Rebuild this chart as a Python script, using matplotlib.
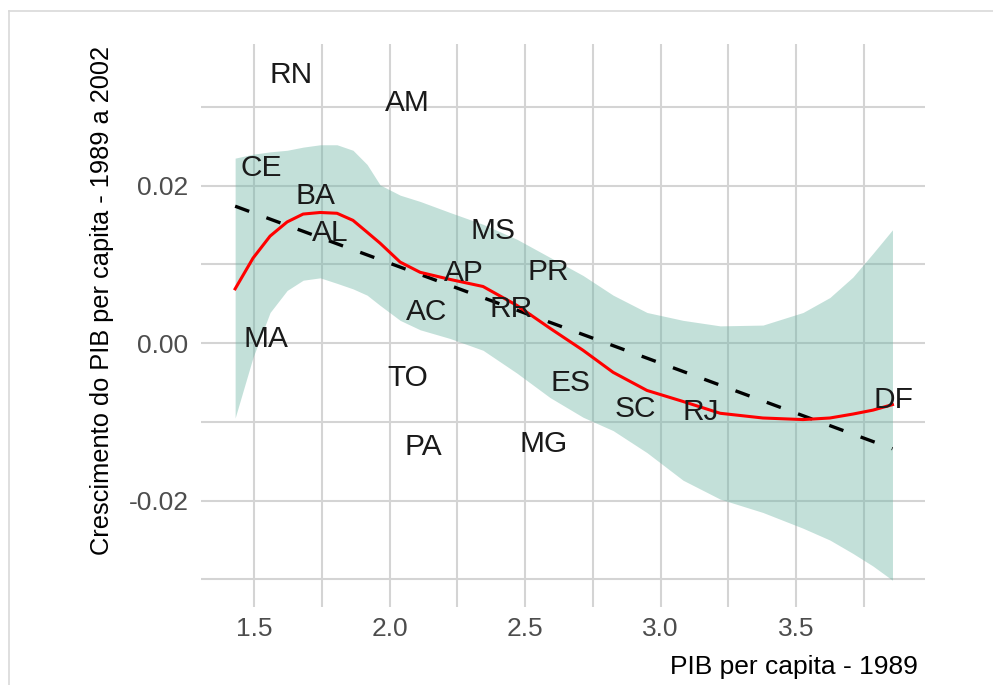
import matplotlib
matplotlib.use("Agg")
from matplotlib import pyplot as plt
from matplotlib.lines import Line2D

plt.rcParams['font.family'] = ['Liberation Sans', 'DejaVu Sans']

# estados: PIB per capita 1989 x crescimento 1989-2002
uf = ['RN', 'AM', 'CE', 'BA', 'AL', 'MS', 'AP', 'PR', 'AC', 'RR',
      'MA', 'TO', 'ES', 'SC', 'RJ', 'PA', 'MG', 'DF']
pib89 = [1.637, 2.065, 1.526, 1.725, 1.780, 2.382, 2.275, 2.585, 2.135, 2.448,
         1.544, 2.068, 2.666, 2.906, 3.149, 2.124, 2.570, 3.858]
cresc = [0.0341, 0.0305, 0.0222, 0.0187, 0.0140, 0.0142, 0.0089, 0.0091, 0.0039, 0.0044,
         0.0005, -0.0044, -0.0051, -0.0084, -0.0088, -0.0132, -0.0128, -0.0072]

# loess e intervalo de confianca
fit_x = [1.430, 1.496, 1.559, 1.622, 1.681, 1.744, 1.806, 1.865, 1.917, 1.965,
         2.039, 2.113, 2.223, 2.345, 2.470, 2.592, 2.714, 2.825, 2.950, 3.083,
         3.220, 3.378, 3.526, 3.625, 3.710, 3.784, 3.856]
fit_y = [0.0069, 0.0108, 0.0136, 0.0154, 0.0164, 0.0166, 0.0165, 0.0156, 0.0141, 0.0127,
         0.0103, 0.0090, 0.0081, 0.0072, 0.0048, 0.0019, -0.0009, -0.0037, -0.0060, -0.0074,
         -0.0089, -0.0095, -0.0097, -0.0095, -0.0090, -0.0085, -0.0078]
fit_hi = [0.0235, 0.0240, 0.0243, 0.0245, 0.0249, 0.0252, 0.0252, 0.0245, 0.0227, 0.0201,
          0.0188, 0.0180, 0.0166, 0.0151, 0.0132, 0.0109, 0.0086, 0.0061, 0.0039, 0.0029,
          0.0022, 0.0023, 0.0039, 0.0058, 0.0084, 0.0114, 0.0144]
fit_lo = [-0.0095, -0.0018, 0.0039, 0.0067, 0.0080, 0.0083, 0.0076, 0.0069, 0.0061, 0.0048,
          0.0029, 0.0017, 0.0006, -0.0009, -0.0038, -0.0069, -0.0094, -0.0111, -0.0139, -0.0174,
          -0.0198, -0.0215, -0.0235, -0.0250, -0.0267, -0.0283, -0.0301]

# regressao linear
lm_x = [1.430, 3.856]
lm_y = [0.0174, -0.0134]

fig = plt.figure(figsize=(9.93, 6.85), dpi=100)
ax = fig.add_axes([0.2024, 0.1139, 0.7291, 0.8219])

grid_col = '#d4d4d4'
ax.set_xlim(1.304, 3.976)
ax.set_ylim(-0.0335, 0.0380)
ax.set_xticks([1.5, 2.0, 2.5, 3.0, 3.5])
ax.set_xticks([1.75, 2.25, 2.75, 3.25, 3.75], minor=True)
ax.set_yticks([-0.02, 0.0, 0.02])
ax.set_yticks([-0.03, -0.01, 0.01, 0.03], minor=True)
ax.set_yticklabels(['-0.02', '0.00', '0.02'])
ax.grid(True, which='both', color=grid_col, lw=1.5)
ax.set_axisbelow(True)
for s in ax.spines.values():
    s.set_visible(False)
ax.tick_params(which='both', length=0, labelsize=19, colors='#4d4d4d')
ax.tick_params(axis='x', pad=7)
ax.tick_params(axis='y', pad=9)

ax.fill_between(fit_x, fit_lo, fit_hi, color='#69b3a2', alpha=0.4, lw=0, zorder=2)
ax.plot(lm_x, lm_y, color='black', lw=2.4, ls=(0, (4.5, 5.5)), zorder=3)
ax.plot(fit_x, fit_y, color='red', lw=2.2, zorder=4)

for lab, x, y in zip(uf, pib89, cresc):
    ax.text(x, y, lab, fontsize=21.5, ha='center', va='center', color='#1a1a1a', zorder=5)

ax.set_xlabel('PIB per capita - 1989', fontsize=19, ha='right')
ax.xaxis.set_label_coords(0.990, -0.085)
ax.set_ylabel('Crescimento do PIB per capita - 1989 a 2002', fontsize=18.3)
ax.yaxis.set_label_coords(-0.120, 0.545)

# moldura da captura de tela
fig.add_artist(Line2D([9 / 993, 1], [1 - 11 / 685, 1 - 11 / 685], color='#d9d9d9', lw=1.2))
fig.add_artist(Line2D([9 / 993, 9 / 993], [0, 1 - 11 / 685], color='#d9d9d9', lw=1.2))

fig.savefig('out.png', dpi=100)
